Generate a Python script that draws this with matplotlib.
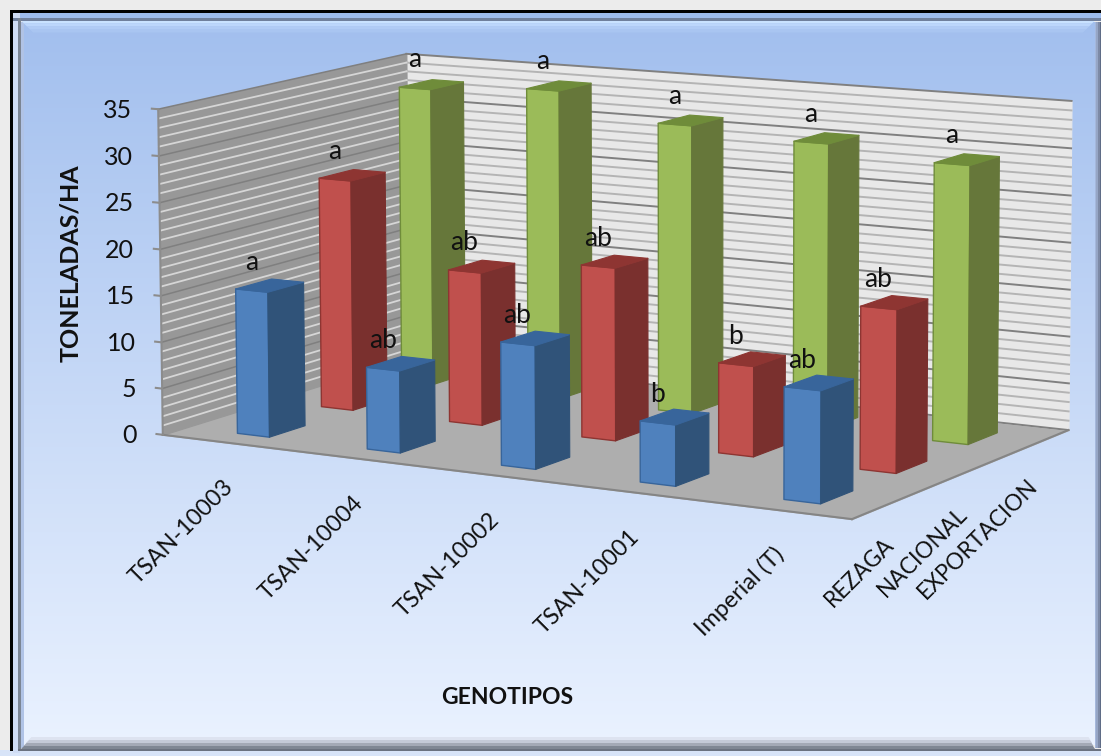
import numpy as np
import matplotlib
matplotlib.use("Agg")
import matplotlib.pyplot as plt
from matplotlib.colors import to_rgb
from matplotlib.patches import Rectangle
from mpl_toolkits.mplot3d.art3d import Poly3DCollection

# ---- data ----
genotypes = ["TSAN-10003", "TSAN-10004", "TSAN-10002", "TSAN-10001", "Imperial (T)"]
series = ["REZAGA", "NACIONAL", "EXPORTACION"]
rezaga = [15.6, 8.7, 12.9, 6.3, 11.4]
nacional = [25.2, 16.5, 18.4, 9.5, 16.9]
exportacion = [33.1, 34.0, 31.3, 30.5, 29.4]
letters_rez = ["a", "ab", "ab", "b", "ab"]
letters_nac = ["a", "ab", "ab", "b", "ab"]
letters_exp = ["a", "a", "a", "a", "a"]
yticks = [0, 5, 10, 15, 20, 25, 30, 35]
colors = ["#4f81bd", "#c0504d", "#9bbb59"]
tops = ["#38659b", "#8e3532", "#6f8c3a"]
sides = ["#305379", "#7a302e", "#66773a"]
FONT = "Lato"
INK = "#111111"

W, H = 1101, 756
fig = plt.figure(figsize=(W/100, H/100), dpi=100, facecolor="#ececec")

# ---- panel frame and gradient ----
bg = fig.add_axes([0, 0, 1, 1]); bg.axis("off")
grad = np.linspace(0, 1, 256)[:, None, None]
top = np.array(to_rgb("#a2bfee")); bot = np.array(to_rgb("#eaf2ff"))
bg.imshow(top + (bot-top)*grad, extent=[12, W, 745, 22], aspect="auto", zorder=0)
bg.set_xlim(0, W); bg.set_ylim(H, 0)
def rect(x, y, w, h, c, z=1):
    bg.add_patch(Rectangle((x, y), w, h, fc=c, ec="none", zorder=z))
rect(0, 750, W, 6, "#d8e4f8")
rect(13, 13, W, 7, "#9dbbec")
rect(13, 13, 7, 740, "#cfdcf4")
rect(13, 18, W, 2.5, "#6f7f9c", 2)
rect(18, 18, 3, 733, "#7b8594", 2)
for k, c in enumerate(["#c9e2ff", "#bcd6fb", "#b0cbf5", "#a9c5f1"]):
    bg.fill([21+k*3, W-6-k*3, W-9-k*3, 24+k*3], [20.5+k*3, 20.5+k*3, 23.5+k*3, 23.5+k*3], c, lw=0, zorder=1.5)
for k, c in enumerate(["#7f8794", "#a3a9b6", "#c4cad8", "#dde3f0"]):
    bg.fill([21+k*2.5, W-6-k*1.5, W-8-k*1.5, 24+k*2.5], [749-k*3, 749-k*3, 746-k*3, 746-k*3], c, lw=0, zorder=1.5)
rect(18, 748.5, W, 2.5, "#6b7280", 2)
for k, c in enumerate(["#5f6c86", "#7d8aa6", "#96a6c6", "#a5b8dc"]):
    rect(W-1.5-k*1.6, 22, 1.7, 726, c, 1.6)
rect(21, 22, 3, 726, "#b0c3e6", 1.2)
rect(10, 10, W, 2.6, "#000000", 3)
rect(10, 10, 2.6, 741, "#000000", 3)

# ---- camera: 3D axes with a projection fitted to the reference's box ----
box = [(0,0,0),(0,0,35),(0,3,35),(5,3,35),(5,3,0),(5,0,0),(0,3,0)]
pix = [(163,434),(157,111),(408,53),(1071,100),(1068,432),(853,518),(408,358)]
A = []
for (x,y,z),(u,v) in zip(box, pix):
    A.append([x,y,z,1,0,0,0,0,-u*x,-u*y,-u*z,-u])
    A.append([0,0,0,0,x,y,z,1,-v*x,-v*y,-v*z,-v])
P = np.linalg.svd(np.array(A, float))[2][-1].reshape(3,4)
def to_px(x, y, z):
    h = P @ np.array([x, y, z, 1.0])
    return h[0]/h[2], h[1]/h[2]

ax = fig.add_axes([0, (H-W)/2/H, 1, W/H], projection="3d", computed_zorder=False)
ax.patch.set_alpha(0)
ax.set_axis_off()
ax.set_proj_type("ortho")
ax.set_xlim(0, 5); ax.set_ylim(0, 3); ax.set_zlim(0, 35)
ax.apply_aspect()
inv = ax.transData.inverted()
(u0, v0), (u1, v1) = inv.transform([(0, H), (W, 0)])
a, b = (u1-u0)/W, u0
c, d = (v1-v0)/H, v0
C = np.linalg.svd(P)[2][-1]
M = np.vstack([a*P[0]+b*P[2], c*P[1]+d*P[2], C/np.linalg.norm(C), P[2]])
ax.get_proj = lambda: M
ax.M = M

def quad(pts, fc, ec=None, lw=.8, z=1):
    ax.add_collection3d(Poly3DCollection([pts], facecolors=fc, edgecolors=ec or fc, linewidths=lw, zorder=z), autolim=False)

quad([(0,0,0),(5,0,0),(5,3,0),(0,3,0)], "#aeaeae", z=1)
quad([(0,3,0),(5,3,0),(5,3,35),(0,3,35)], "#e8e8e8", z=1)
quad([(0,0,0),(0,3,0),(0,3,35),(0,0,35)], "#989898", z=1)
for t in range(0, 36):
    major = t % 5 == 0
    ax.plot([0,5],[3,3],[t,t], color="#808080" if major else "#b4b4b4", lw=1.4, zorder=2)
    if t:
        ax.plot([0,0],[0,3],[t,t], color="#7f7f7f" if major else "#d6d6d6", lw=1.1 if major else 1.3, zorder=2)
ax.plot([0,0],[0,0],[0,35], color="#8c8c8c", lw=1.5, zorder=2)
ax.plot([0,5],[0,0],[0,0], color="#858585", lw=1.5, zorder=2)
ax.plot([5,5],[0,3],[0,0], color="#858585", lw=1.5, zorder=2)

ov = fig.add_axes([0, 0, 1, 1]); ov.axis("off"); ov.set_xlim(0, W); ov.set_ylim(H, 0)

w, dep, x0, y0 = .25, .42, .385, .29
z = 10
rows = [exportacion, nacional, rezaga]
labs = [letters_exp, letters_nac, letters_rez]
for j in (2, 1, 0):
    vals = rows[2-j]; lab = labs[2-j]
    y = j + y0
    for i, v in enumerate(vals):
        x = i + x0
        face = colors[j]
        quad([(x,y,0),(x+w,y,0),(x+w,y,v),(x,y,v)], face, ec=tops[j], lw=1, z=z)
        quad([(x+w,y,0),(x+w,y+dep,0),(x+w,y+dep,v),(x+w,y,v)], sides[j], z=z)
        quad([(x,y,v),(x+w,y,v),(x+w,y+dep,v),(x,y+dep,v)], tops[j], z=z)
        px, py = to_px(x+w/2, y, v)
        ov.text(px, py-28, lab[i], ha="center", va="center", fontsize=19, family=FONT, color=INK)
        z += 1

for t in yticks:
    ax.plot([-.05, 0],[0,0],[t,t], color="#8c8c8c", lw=1.5, zorder=2)
    px, py = to_px(0, 0, t)
    ov.text(px-26, py+1, str(t), ha="right", va="center", fontsize=18, family=FONT, color=INK)
for i, g in enumerate(genotypes):
    px, py = to_px(i+.5, 0, 0)
    ov.text(px+3, py+41, g, rotation=45, rotation_mode="anchor", ha="right", va="center", fontsize=16.8, family=FONT, color=INK)
for j, s in enumerate(series):
    px, py = to_px(5, j+.5, 0)
    ov.text(px, py+38, s, rotation=45, rotation_mode="anchor", ha="right", va="center", fontsize=16.3, family=FONT, color=INK)

ov.text(71, 263, "TONELADAS/HA", rotation=90, ha="center", va="center", fontsize=18, fontweight="bold", family=FONT, color=INK)
ov.text(507, 698, "GENOTIPOS", ha="center", va="center", fontsize=16.5, fontweight="bold", family=FONT, color=INK)
fig.savefig("out.png", dpi=100, facecolor=fig.get_facecolor())
